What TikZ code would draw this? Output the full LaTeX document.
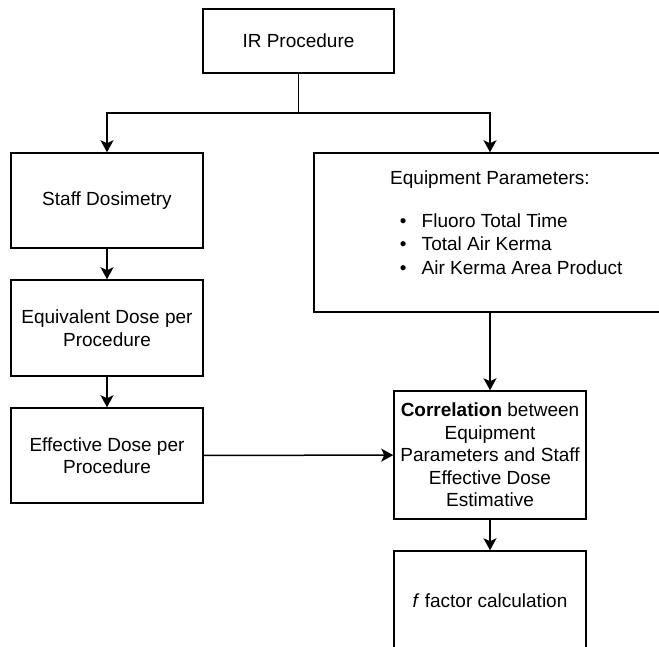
\documentclass[tikz,border=0pt]{standalone}
\usepackage{fontspec}
\setmainfont{Liberation Sans}
\usepackage{tikz}
\usetikzlibrary{arrows.meta}

\tikzset{
  box/.style={draw, line width=1.5pt, minimum width=192pt, minimum height=96pt, align=center, inner sep=0pt},
}
\newcommand{\bul}{\makebox[22pt][l]{\textbullet}}

\begin{document}
\begin{tikzpicture}[x=1pt, y=-1pt, line width=1.5pt, font=\fontsize{19}{22.5}\selectfont,
                    >={Stealth[length=12pt, width=13pt, inset=3pt]}]
                      \clip (0,0) rectangle (659,646);

                      \node[box, minimum width=191pt, minimum height=64pt] (ir) at (298.5,41) {IR Procedure};

                      \node[box, minimum height=95pt] (staff) at (107,200.5) {Staff Dosimetry};
                      \node[box] (equiv) at (107,328) {Equivalent Dose per\\Procedure};
                      \node[box, minimum height=95pt] (effect) at (107,455.5) {Effective Dose per\\Procedure};

                      \node[box, minimum width=352pt, minimum height=159pt] (equip) at (490,232.5) {};
                      \node (equiphead) at (490,180) {Equipment Parameters:};
                      \node[anchor=west, align=left, inner sep=0pt] (equiplist) at (399,244)
                        {\bul Fluoro Total Time\\[1pt] \bul Total Air Kerma\\[1pt] \bul Air Kerma Area Product};

                      \node[box, minimum height=128pt] (corr) at (490,455)
                        {\textbf{Correlation} between\\Equipment\\Parameters and Staff\\Effective Dose\\Estimative};
                      \node[box, minimum height=100pt] (ffac) at (490,601) {\textit{f} factor calculation};

                      \coordinate (split) at (298.5,113);
                      \draw (ir) -- (split);
                      \draw[->] (split) -| (staff);
                      \draw[->] (split) -| (equip);

                      \draw[->] (staff) -- (equiv);
                      \draw[->] (equiv) -- (effect);
                      \draw[->] (effect) -- (corr);
                      \draw[->] (equip) -- (corr);
                      \draw[->] (corr) -- (ffac);
\end{tikzpicture}
\end{document}
